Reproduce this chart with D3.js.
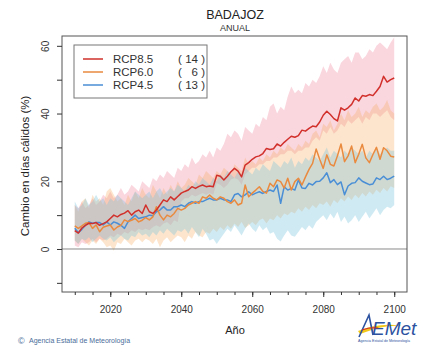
<!DOCTYPE html>
<html>
<head>
<meta charset="utf-8">
<script src="https://cdn.jsdelivr.net/npm/d3@7"></script>
<style>
  body { margin: 0; background: #fff; }
  svg { display: block; font-family: "Liberation Sans", Arial, sans-serif; }
</style>
</head>
<body>
<div id="chart"></div>
<script>
// x categories: one value per year
const years = d3.range(2010, 2101)

// ensemble means
const rcp85 = [5.4,4.7,6.2,7.0,7.6,7.5,7.8,7.0,7.5,8.0, 9.0,10.0,9.5,10.2,10.6,11.3,10.0,11.0,11.5,10.5,
  13.0,11.0,10.5,11.5,13.0,14.5,14.0,15.4,14.5,15.5, 16.5,17.0,17.4,18.4,17.9,18.5,18.9,18.4,18.6,18.4,
  21.8,21.5,20.4,21.5,22.8,23.8,23.0,21.3,24.8,25.5, 26.5,27.2,27.5,28.2,29.7,29.4,29.6,31.0,30.4,31.5,
  32.4,33.3,33.0,33.5,35.1,34.8,35.6,36.3,36.1,37.5, 39.5,40.7,39.7,38.5,37.8,41.7,41.0,41.7,42.7,44.6,
  43.7,45.3,45.1,45.6,45.3,46.6,48.0,51.0,49.3,50.0, 50.5]
const rcp60 = [6.8,6.1,6.8,7.6,7.8,6.1,7.1,5.1,6.4,6.8, 7.1,5.6,6.5,7.0,8.6,8.1,8.5,9.0,8.0,8.5,
  9.3,8.6,9.5,12.5,10.0,8.6,10.0,9.5,10.5,12.0, 11.5,12.0,13.0,13.5,14.0,13.5,15.4,15.0,15.9,15.0,
  14.5,15.4,15.0,14.0,13.5,14.5,13.0,13.5,18.9,15.4, 16.5,17.4,18.4,17.0,16.5,19.4,18.4,20.4,19.9,18.0,
  20.9,17.4,19.9,20.9,18.9,21.3,23.5,25.3,29.5,26.5, 23.8,27.8,25.0,24.5,27.5,31.0,25.8,27.5,30.4,25.5,
  28.0,30.9,26.9,25.5,27.9,30.0,26.5,29.9,29.0,27.4, 27.2]
const rcp45 = [6.1,4.8,5.8,7.0,8.0,7.6,7.8,7.8,7.1,8.0, 7.1,8.0,7.6,7.0,6.1,8.0,9.0,10.0,9.0,9.3,
  9.5,10.0,9.8,11.0,11.5,12.5,11.5,11.5,12.5,12.5, 13.0,12.5,13.5,14.0,13.5,14.0,14.0,14.5,15.0,14.5,
  14.5,15.0,14.5,14.5,14.0,16.0,16.4,15.4,16.0,16.9, 16.0,16.5,16.9,16.4,17.0,17.4,17.0,18.9,13.5,18.4,
  17.4,17.9,17.4,20.4,18.0,17.9,19.4,18.9,19.9,20.0, 21.0,22.5,19.6,20.5,19.0,19.8,16.0,18.6,19.4,19.6,
  21.0,20.0,19.5,19.0,19.2,21.0,20.5,21.5,20.5,20.9, 21.5]

// model spread (upper / lower)
const hi85 = [13,12,14,12,13,15,13,14,16,15, 17,15,16,18,16,17,19,18,17,20, 19,18,21,20,22,21,23,22,21,24,
  23,25,24,27,25,26,28,27,29,27, 30,29,31,34,33,35,34,32,36,35, 34,37,36,39,38,42,43,40,42,41,
  45,48,46,47,46,49,48,50,49,51, 54,52,55,53,52,55,56,57,55,58, 58,56,57,59,58,60,61,60,59,61, 62.5]
const lo85 = [1,0.5,2,1.5,2,3,2,3,2.5,3, 4,3.5,4.5,4,5,4.5,5.5,5,6,5.5, 6,5.5,6.5,7,6.5,7.5,8,7,8.5,8,
  14,15,15,16,15.5,16,16.5,16,16.5,16, 19.5,19,18,19,20.5,21,20.5,19,22,23, 24,24,25,25,26,26,27,27,28,28,
  29,29,28,29,29,30,30,32,33,32, 35,34,36,34,35,37,36,38,37,38, 39,37,39,38,40,40,39,40,41,39, 38]
const hi60 = [13,11,14,15,12,16,14,15,13,17, 18,16,14,15,13,16,14,17,15,18, 16,15,19,17,15,18,16,19,17,20,
  18,19,21,20,19,22,21,23,22,21, 23,22,24,23,22,25,24,23,27,25, 26,25,27,26,28,27,29,28,30,29,
  31,30,29,31,30,32,31,34,35,33, 37,36,38,35,37,40,38,41,39,40, 42,39,41,40,42,43,41,42,44,41, 40]
const lo60 = [2.5,1.5,3,2,1,2.5,1.5,3,2,0.5, 1,-0.5,2,1.5,3,2,1,2.5,3,2, 3,2.5,1.5,3,0.5,2.5,3.5,2,3,4,
  3.5,2,4,3,5,4,3.5,5,4.5,6, 5,6.5,5.5,7,6,7.5,6.5,8,6.2,7, 8,7,8.5,9,7.5,9,8.5,10,9,10.5,
  10,11,10.5,12,11,12.5,11.5,13,12,13.5, 13,14,12.5,14.5,13.5,15,14,15.5,14.5,16, 15,16.5,15.5,17,16,17.5,16.5,18,17,18.5, 18]
const hi45 = [14,12,13,15,13,14,16,14,15,13, 15,14,16,15,14,13,15,17,16,15, 16,17,15,17,18,16,17,18,17,19,
  18,17,19,18,20,19,21,20,19,21, 20,22,21,23,22,21,23,22,24,23, 22,24,23,25,24,23,26,25,24,26,
  25,27,24,26,25,27,26,28,27,26, 28,30,27,29,28,27,29,28,30,29, 28,29,27,29,28,30,28,29,30,29, 29]
const lo45 = [2.5,1.5,3,2.5,3.5,2,3,4,3,2.5, 3.5,2,3,4,3,2.5,4,3.5,5,4, 4.5,3.5,5,4,5.5,4.5,6,5,4,5.5,
  5,6,4.5,6.5,5,3.5,6,4.5,2.5,3, 1.5,3,4.5,6,5,7,5.5,4,6,7.5, 6,5,7,5.5,6.5,4.5,5,3,2.2,4,
  5.5,4,3.6,5,6.5,5.5,7,6,8,9, 10,8.5,10.5,9,11,8,9.5,7.5,8.5,10, 8,9.5,11,9,10.5,12,10,11.5,12.5,12, 13]

const legendLabels = ['RCP8.5', 'RCP6.0', 'RCP4.5']
const modelCounts = [14, 6, 13]
const xLabelTicks = [2020, 2040, 2060, 2080, 2100]
const xMinorTicks = d3.range(2010, 2101, 5)
const yTicks = [-10, 0, 10, 20, 30, 40, 50, 60]
const yLabelTicks = [0, 20, 40, 60]

const scenarios = [
  { mean: rcp85, hi: hi85, lo: lo85, line: '#d1302b', fill: 'rgba(240,120,150,0.30)' },
  { mean: rcp60, hi: hi60, lo: lo60, line: '#e98a3f', fill: 'rgba(250,175,100,0.32)' },
  { mean: rcp45, hi: hi45, lo: lo45, line: '#4a8fd6', fill: 'rgba(120,195,220,0.35)' }
]

const W = 422, H = 347
const pL = 62, pR = 407, pT = 36, pB = 292

const svg = d3.select('#chart').append('svg')
  .attr('width', W)
  .attr('height', H)

const x = d3.scaleLinear().domain([2006.4, 2103.6]).range([pL, pR])
const y = d3.scaleLinear().domain([-12.7, 62.9]).range([pB, pT])

svg.append('clipPath').attr('id', 'plot')
  .append('rect')
  .attr('x', pL).attr('y', pT)
  .attr('width', pR - pL).attr('height', pB - pT)

const g = svg.append('g').attr('clip-path', 'url(#plot)')

// bands first, then zero line, then means
scenarios.forEach(s => {
  const area = d3.area()
    .x((d, i) => x(years[i]))
    .y0((d, i) => y(s.lo[i]))
    .y1((d, i) => y(s.hi[i]))
  g.append('path')
    .datum(s.hi)
    .attr('fill', s.fill)
    .attr('stroke', 'none')
    .attr('d', area)
})

g.append('line')
  .attr('x1', pL).attr('x2', pR)
  .attr('y1', y(0)).attr('y2', y(0))
  .attr('stroke', '#8a8a8a')
  .attr('stroke-width', 1)

scenarios.slice().reverse().forEach(s => {
  const line = d3.line()
    .x((d, i) => x(years[i]))
    .y(d => y(d))
  g.append('path')
    .datum(s.mean)
    .attr('fill', 'none')
    .attr('stroke', s.line)
    .attr('stroke-width', 1.5)
    .attr('stroke-linejoin', 'round')
    .attr('d', line)
})

// frame
svg.append('rect')
  .attr('x', pL).attr('y', pT)
  .attr('width', pR - pL).attr('height', pB - pT)
  .attr('fill', 'none')
  .attr('stroke', '#555')
  .attr('stroke-width', 1)

// x axis
svg.append('g')
  .attr('transform', `translate(0,${pB})`)
  .call(d3.axisBottom(x).tickValues(xMinorTicks).tickSize(3).tickFormat(''))
  .call(a => a.select('.domain').remove())
  .call(a => a.selectAll('line').attr('stroke', '#333'))
svg.append('g')
  .attr('transform', `translate(0,${pB})`)
  .call(d3.axisBottom(x).tickValues(xLabelTicks).tickSize(5).tickPadding(9).tickFormat(d3.format('d')))
  .call(a => a.select('.domain').remove())
  .call(a => a.selectAll('line').attr('stroke', '#333'))
  .call(a => a.selectAll('text').attr('fill', '#333').style('font-size', '10px').style('font-family', 'Liberation Sans, Arial, sans-serif'))

// y axis
svg.append('g')
  .attr('transform', `translate(${pL},0)`)
  .call(d3.axisLeft(y).tickValues(yTicks).tickSize(5)
    .tickFormat(d => yLabelTicks.includes(d) ? d : ''))
  .call(a => a.select('.domain').remove())
  .call(a => a.selectAll('line').attr('stroke', '#333'))
  .call(a => a.selectAll('text')
    .attr('transform', 'rotate(-90)')
    .attr('x', 0).attr('y', -13.5).attr('dy', 0)
    .attr('text-anchor', 'middle')
    .attr('fill', '#333')
    .style('font-size', '10px')
    .style('font-family', 'Liberation Sans, Arial, sans-serif'))

// titles
svg.append('text')
  .attr('x', 235).attr('y', 18.5)
  .attr('text-anchor', 'middle')
  .attr('fill', '#222')
  .style('font-size', '12.5px')
  .text('BADAJOZ')
svg.append('text')
  .attr('x', 235).attr('y', 31)
  .attr('text-anchor', 'middle')
  .attr('fill', '#333')
  .style('font-size', '9px')
  .text('ANUAL')
svg.append('text')
  .attr('x', 235).attr('y', 334)
  .attr('text-anchor', 'middle')
  .attr('fill', '#222')
  .style('font-size', '11px')
  .text('Año')
svg.append('text')
  .attr('transform', 'translate(29,166) rotate(-90)')
  .attr('text-anchor', 'middle')
  .attr('fill', '#222')
  .style('font-size', '11.5px')
  .text('Cambio en días cálidos (%)')

// legend
const lg = svg.append('g')
lg.append('rect')
  .attr('x', 74).attr('y', 45)
  .attr('width', 133).attr('height', 53)
  .attr('fill', '#fff')
  .attr('stroke', '#777')
legendLabels.forEach((label, i) => {
  const ly = 59 + i * 13
  lg.append('line')
    .attr('x1', 83).attr('x2', 103)
    .attr('y1', ly).attr('y2', ly)
    .attr('stroke', scenarios[i].line)
    .attr('stroke-width', 1.5)
  lg.append('text')
    .attr('x', 113).attr('y', ly + 4)
    .attr('fill', '#333')
    .style('font-size', '11.5px')
    .text(label)
  lg.append('text')
    .attr('x', 178).attr('y', ly + 4)
    .attr('fill', '#333')
    .style('font-size', '11.5px')
    .text('(')
  lg.append('text')
    .attr('x', 198).attr('y', ly + 4)
    .attr('text-anchor', 'end')
    .attr('fill', '#333')
    .style('font-size', '11.5px')
    .text(modelCounts[i])
  lg.append('text')
    .attr('x', 205).attr('y', ly + 4)
    .attr('text-anchor', 'end')
    .attr('fill', '#333')
    .style('font-size', '11.5px')
    .text(')')
})

// footer
svg.append('text')
  .attr('x', 18).attr('y', 344)
  .attr('fill', '#4a6d9a')
  .style('font-size', '9px')
  .text('©')
svg.append('text')
  .attr('x', 29).attr('y', 343)
  .attr('fill', '#4a6d9a')
  .style('font-size', '7px')
  .text('Agencia Estatal de Meteorología')

// AEMet logo (approximation)
const logo = svg.append('g')
logo.append('path')
  .attr('d', 'M358,331 Q380,322 402,326 Q385,324 360,334 Z')
  .attr('fill', '#f2c81b')
logo.append('path')
  .attr('d', 'M359,337 L369,315 L373,335')
  .attr('fill', 'none')
  .attr('stroke', '#2c52a0')
  .attr('stroke-width', 1.6)
logo.append('text')
  .attr('x', 372).attr('y', 335)
  .attr('fill', '#2c52a0')
  .style('font-size', '19px')
  .style('font-style', 'italic')
  .text('EMet')
logo.append('path')
  .attr('d', 'M362,330 Q370,327 378,328')
  .attr('fill', 'none')
  .attr('stroke', '#d1302b')
  .attr('stroke-width', 1.2)
logo.append('text')
  .attr('x', 384).attr('y', 342)
  .attr('text-anchor', 'middle')
  .attr('fill', '#2c52a0')
  .style('font-size', '3.6px')
  .text('Agencia Estatal de Meteorología')
</script>
</body>
</html>
